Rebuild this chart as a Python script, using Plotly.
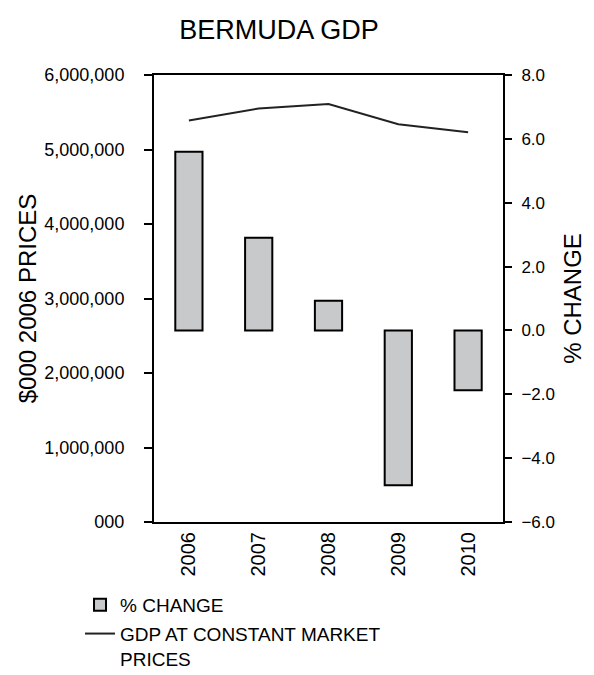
import plotly.graph_objects as go

years = ["2006", "2007", "2008", "2009", "2010"]
gdp = [5390000, 5550000, 5610000, 5340000, 5230000]
pct_change = [5.6, 2.9, 0.93, -4.85, -1.87]
left_tickvals = [0, 1000000, 2000000, 3000000, 4000000, 5000000, 6000000]
left_ticktext = ["000", "1,000,000", "2,000,000", "3,000,000", "4,000,000", "5,000,000", "6,000,000"]
right_tickvals = [-6, -4, -2, 0, 2, 4, 6, 8]

FONT = "Liberation Sans, Arial, sans-serif"

fig = go.Figure()
fig.add_trace(go.Bar(
    x=years, y=pct_change, yaxis="y2", name="% CHANGE", legendgroup="a",
    marker=dict(color="#c8c9cb", line=dict(color="#000000", width=2)),
    width=0.39,
))
fig.add_trace(go.Scatter(
    x=years, y=gdp, yaxis="y", mode="lines", legendgroup="b",
    name="GDP AT CONSTANT MARKET<br>PRICES",
    line=dict(color="#222222", width=2),
))

fig.update_layout(
    width=578, height=700,
    margin=dict(l=146, r=83, t=67, b=186),
    paper_bgcolor="white", plot_bgcolor="white",
    font=dict(family=FONT, color="#000000"),
    title=dict(text="BERMUDA GDP", x=0.469, xanchor="center", y=0.9686, yanchor="middle",
               font=dict(size=27, family=FONT)),
    showlegend=True,
    legend=dict(x=-0.212, y=-0.1432, xanchor="left", yanchor="top",
                font=dict(size=19, family=FONT), tracegroupgap=1,
                itemwidth=30, valign="top", bgcolor="rgba(0,0,0,0)"),
    xaxis=dict(
        type="category", showline=True, linecolor="#000000", linewidth=2,
        mirror=True, ticks="", ticklen=0, tickangle=-90, tickfont=dict(size=20),
        showgrid=False, zeroline=False, automargin=False,
    ),
    yaxis=dict(
        range=[0, 6000000], tickvals=left_tickvals, ticktext=left_ticktext,
        showline=True, linecolor="#000000", linewidth=2, ticks="outside",
        ticklen=8, tickwidth=2, tickcolor="#000000", showgrid=False, zeroline=False,
        tickfont=dict(size=18), automargin=False, ticklabelstandoff=16,
        title=dict(text="$000 2006 PRICES", font=dict(size=24), standoff=1),
    ),
    yaxis2=dict(
        range=[-6, 8], tickvals=right_tickvals, tickformat=".1f",
        overlaying="y", side="right",
        showline=True, linecolor="#000000", linewidth=2, ticks="outside",
        ticklen=7, tickwidth=2, tickcolor="#000000", showgrid=False, zeroline=False,
        tickfont=dict(size=17), automargin=False, ticklabelstandoff=6,
        title=dict(text="% CHANGE", font=dict(size=24), standoff=12),
    ),
)

fig.write_html("out.html")
